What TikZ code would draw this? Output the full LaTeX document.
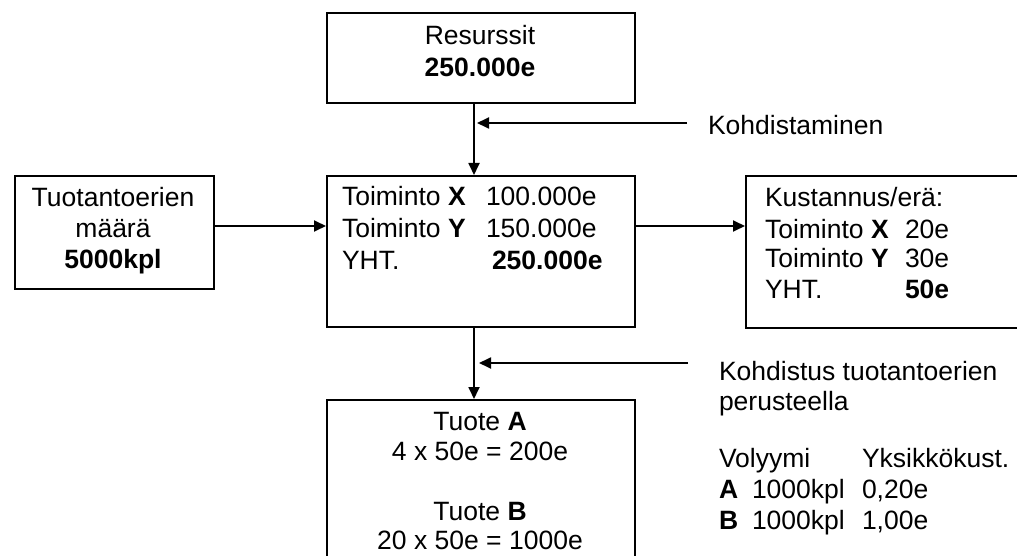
\documentclass[tikz,border=0pt]{standalone}
\usepackage{fontspec}
\setmainfont{Liberation Sans}
\usetikzlibrary{arrows.meta}
\begin{document}
\begin{tikzpicture}[x=1pt,y=-1pt,
  box/.style={draw=black, line width=1.8pt, rectangle, inner sep=0pt, anchor=north west},
  txt/.style={inner sep=0pt, outer sep=0pt, font=\fontsize{26.5}{30}\selectfont},
  lb/.style={txt, anchor=base west},
  cb/.style={txt, anchor=base},
  conn/.style={line width=1.8pt, -{Triangle[length=12pt,width=11pt]}},
  ]
\useasboundingbox (0,0) rectangle (1017,556);
\clip (0,0) rectangle (1017,556);
% boxes
\node[box, minimum width=308pt, minimum height=90pt] (res) at (326,12) {};
\node[box, minimum width=199pt, minimum height=113pt] (qty) at (14,175) {};
\node[box, minimum width=308pt, minimum height=151pt] (act) at (326,175) {};
\node[box, minimum width=290pt, minimum height=152pt] (cost) at (745,175) {};
\node[box, minimum width=308pt, minimum height=180pt] (prod) at (326,399) {};
% texts
\node[cb] (t1) at (480,45) {Resurssit};
\node[cb] (t2) at (480,77) {\textbf{250.000e}};
\node[cb] (q1) at (113,207) {Tuotantoerien};
\node[cb] (q2) at (113,237) {määrä};
\node[cb] (q3) at (113,268) {\textbf{5000kpl}};
\node[lb] (a1) at (342,206) {Toiminto \textbf{X}};
\node[lb] (a1v) at (486,206) {100.000e};
\node[lb] (a2) at (342,237) {Toiminto \textbf{Y}};
\node[lb] (a2v) at (486,237) {150.000e};
\node[lb] (a3) at (342,269) {YHT.};
\node[lb] (a3v) at (492,269) {\textbf{250.000e}};
\node[lb] (c0) at (765,207) {Kustannus/erä:};
\node[lb] (c1) at (765,238) {Toiminto \textbf{X}};
\node[lb] (c1v) at (905,238) {20e};
\node[lb] (c2) at (765,267) {Toiminto \textbf{Y}};
\node[lb] (c2v) at (905,267) {30e};
\node[lb] (c3) at (765,298) {YHT.};
\node[lb] (c3v) at (905,298) {\textbf{50e}};
\node[cb] (p1) at (480,430) {Tuote \textbf{A}};
\node[cb] (p2) at (480,460) {4 x 50e = 200e};
\node[cb] (p3) at (480,520) {Tuote \textbf{B}};
\node[cb] (p4) at (480,549) {20 x 50e = 1000e};
\node[lb] (k1) at (708,135) {Kohdistaminen};
\node[lb] (k2) at (719,380) {Kohdistus tuotantoerien};
\node[lb] (k3) at (719,410) {perusteella};
\node[lb] (v0) at (719,467) {Volyymi};
\node[lb] (v0b) at (862,467) {Yksikkökust.};
\node[lb] (va) at (719,498) {\textbf{A}};
\node[lb] (vak) at (752,498) {1000kpl};
\node[lb] (vav) at (862,498) {0,20e};
\node[lb] (vb) at (719,529) {\textbf{B}};
\node[lb] (vbk) at (752,529) {1000kpl};
\node[lb] (vbv) at (862,529) {1,00e};
% connectors
\coordinate (j1) at (474,123);
\coordinate (k1e) at (687,123);
\draw[conn] (res.south -| j1) -- (act.north -| j1);
\draw[conn] (k1e) -- ([xshift=3pt]j1);
\coordinate (ya) at (0,226);
\draw[conn] (qty.east |- ya) -- (act.west |- ya);
\draw[conn] (act.east |- ya) -- (cost.west |- ya);
\coordinate (j2) at (474,363);
\coordinate (k2e) at (688,363);
\draw[conn] (act.south -| j2) -- (prod.north -| j2);
\draw[conn] (k2e) -- ([xshift=5pt]j2);
\end{tikzpicture}
\end{document}
